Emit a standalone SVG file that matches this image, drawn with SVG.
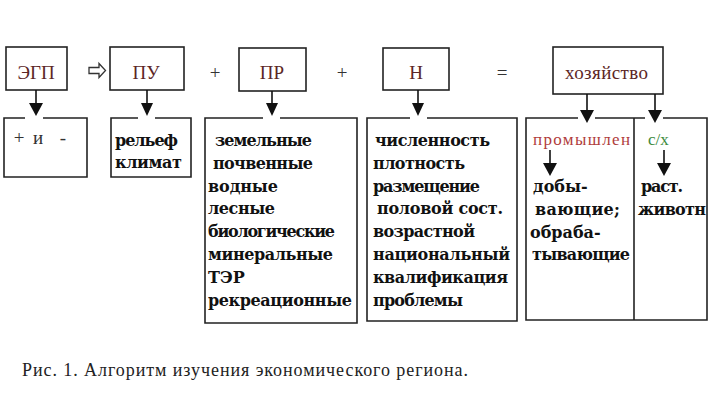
<svg xmlns="http://www.w3.org/2000/svg" width="712" height="418" viewBox="0 0 712 418">
<style>
.box{fill:none;stroke:#222;stroke-width:1.6}
.ln{stroke:#111;stroke-width:1.6;fill:none}
.hd{fill:#111}
.top{font-family:"Liberation Serif","Times New Roman",serif;font-size:19px;fill:#5c2626;text-anchor:middle}
.op{font-family:"Liberation Serif","Times New Roman",serif;font-size:19px;fill:#333;text-anchor:middle}
.b{font-family:"DejaVu Serif",serif;font-size:16px;font-weight:bold;fill:#111}
.cap{font-family:"Liberation Serif","Times New Roman",serif;font-size:18px;fill:#222}
</style>
<rect width="712" height="418" fill="#fff"/>
<g id="egp"><rect class="box" x="6" y="47" width="61" height="43"/><text class="top" x="36" y="79">ЭГП</text></g>
<g id="pu"><rect class="box" x="110" y="47" width="74" height="43"/><text class="top" x="146" y="79">ПУ</text></g>
<g id="pr"><rect class="box" x="239" y="48" width="67" height="43"/><text class="top" x="272" y="79">ПР</text></g>
<g id="n"><rect class="box" x="383" y="48" width="66" height="42"/><text class="top" x="416" y="79">Н</text></g>
<g id="hoz"><rect class="box" x="553" y="47" width="110" height="47"/><text class="top" x="565" y="79" style="text-anchor:start" textLength="83">хозяйство</text></g>
<g id="ops">
<text class="op" x="215" y="79">+</text>
<text class="op" x="342" y="79">+</text>
<text class="op" x="502" y="79">=</text>
</g>
<g id="plusminus"><path class="box" d="M25,118 H4 V177 H87 V118 H43"/>
<text class="op" x="19" y="144">+</text><text class="op" x="38" y="144">и</text><text class="op" x="63" y="144">-</text></g>
<g id="relief"><path class="box" d="M138,118 H111 V177 H191 V118 H155"/>
<text class="b" x="115" y="146" textLength="63">рельеф</text>
<text class="b" x="115" y="168" textLength="67">климат</text></g>
<g id="resources"><path class="box" d="M263,118 H205 V323 H357 V118 H280"/>
<text class="b" x="215" y="146" textLength="97">земельные</text>
<text class="b" x="213" y="169" textLength="100">почвенные</text>
<text class="b" x="208" y="192" textLength="70">водные</text>
<text class="b" x="208" y="214" textLength="67">лесные</text>
<text class="b" x="208" y="237" textLength="127">биологические</text>
<text class="b" x="208" y="260" textLength="125">минеральные</text>
<text class="b" x="208" y="283">ТЭР</text>
<text class="b" x="208" y="306" textLength="144">рекреационные</text></g>
<g id="population"><path class="box" d="M410,118 H367 V321 H517 V118 H427"/>
<text class="b" x="375" y="146" textLength="115">численность</text>
<text class="b" x="373" y="169" textLength="92">плотность</text>
<text class="b" x="373" y="192" textLength="107">размещение</text>
<text class="b" x="377" y="214" textLength="126">половой сост.</text>
<text class="b" x="373" y="237" textLength="102">возрастной</text>
<text class="b" x="373" y="260" textLength="137">национальный</text>
<text class="b" x="373" y="283" textLength="135">квалификация</text>
<text class="b" x="373" y="306" textLength="90">проблемы</text></g>
<g id="economy"><path class="box" d="M578,118 H526 V320 H707 V118 H663 M645,118 H595 M634,118 V320"/>
<text x="533" y="145" textLength="97" style="font-family:'Liberation Serif',serif;font-size:17px;fill:#b03c3c">промышлен</text>
<text x="648" y="145" style="font-family:'Liberation Serif',serif;font-size:17px;fill:#3c8a3c">с/х</text>
<text class="b" x="533" y="192">добы-</text>
<text class="b" x="535" y="215" textLength="85">вающие;</text>
<text class="b" x="530" y="238">обраба-</text>
<text class="b" x="532" y="260" textLength="98">тывающие</text>
<text class="b" x="641" y="192" textLength="42">раст.</text>
<text class="b" x="638" y="215" textLength="68">животн</text></g>
<g id="connectors">
<path d="M89,67.5 H99 V63.5 L105.5,70.5 L99,77.5 V73.5 H89 Z" fill="#fff" stroke="#333" stroke-width="1.3"/>
<line class="ln" x1="36" y1="90" x2="36" y2="104"/><polygon class="hd" points="29,103 43,103 36,116"/>
<line class="ln" x1="147" y1="90" x2="147" y2="104"/><polygon class="hd" points="141,103 153,103 147,116"/>
<line class="ln" x1="272" y1="91" x2="272" y2="104"/><polygon class="hd" points="266,103 278,103 272,116"/>
<line class="ln" x1="418" y1="90" x2="418" y2="104"/><polygon class="hd" points="412,103 424,103 418,116"/>
<line class="ln" x1="587" y1="94" x2="587" y2="111"/><polygon class="hd" points="580,110 594,110 587,123"/>
<line class="ln" x1="655" y1="94" x2="655" y2="111"/><polygon class="hd" points="648,110 662,110 655,123"/>
<line class="ln" x1="550" y1="150" x2="550" y2="164"/><polygon class="hd" points="543,163 557,163 550,176"/>
<line class="ln" x1="664" y1="150" x2="664" y2="164"/><polygon class="hd" points="657,163 671,163 664,176"/>
</g>
<text class="cap" x="22" y="376" textLength="446">Рис. 1. Алгоритм изучения экономического региона.</text>
</svg>
